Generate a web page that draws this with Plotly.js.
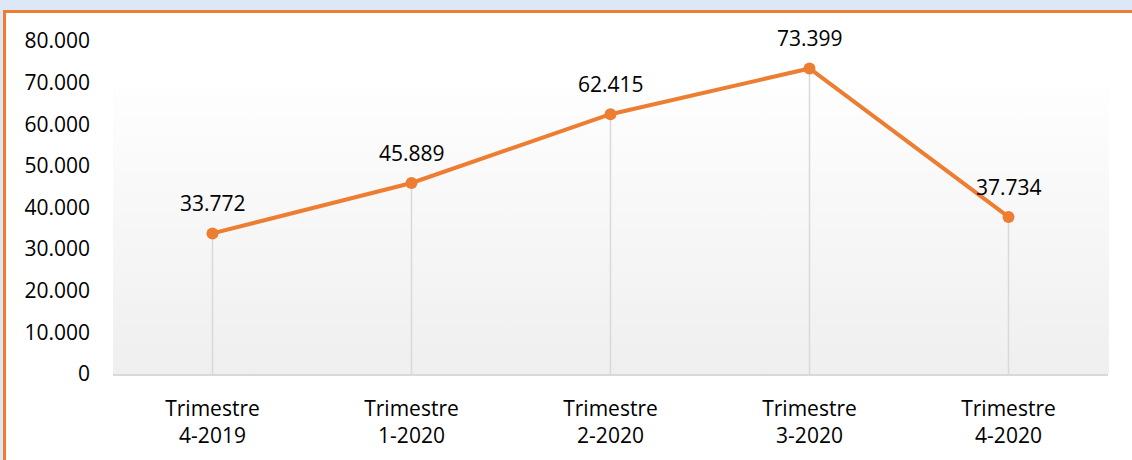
<!DOCTYPE html>
<html>
<head>
<meta charset="utf-8">
<script src="https://cdn.plot.ly/plotly-3.0.1.min.js"></script>
<style>
  html, body { margin: 0; padding: 0; width: 1132px; height: 460px; overflow: hidden; background: #dce7f7; }
  #frame { position: absolute; left: 3px; top: 10px; width: 1140px; height: 470px; background: #ffffff;
           border-top: 3px solid #ed7d31; border-left: 3px solid #ed7d31; box-sizing: border-box; }
  #grad { position: absolute; left: 113px; top: 85px; width: 996px; height: 289px;
          background: linear-gradient(to bottom, #fefefe 0%, #efefef 100%); }
  #chart { position: absolute; left: 0; top: 0; width: 1132px; height: 460px; }
</style>
</head>
<body>
<div id="frame"></div>
<div id="grad"></div>
<div id="chart"></div>
<script>
const categories = ["Trimestre<br>4-2019", "Trimestre<br>1-2020", "Trimestre<br>2-2020", "Trimestre<br>3-2020", "Trimestre<br>4-2020"];
const values = [33772, 45889, 62415, 73399, 37734];
const yTicks = [0, 10000, 20000, 30000, 40000, 50000, 60000, 70000, 80000];

const font = "'Open Sans', 'DejaVu Sans', sans-serif";
const orange = "#ed7d31";

function fmt(v) {
  return String(Math.round(v)).replace(/\B(?=(\d{3})+(?!\d))/g, ".");
}

const trace = {
  type: "scatter",
  mode: "lines+markers",
  x: categories,
  y: values,
  line: { color: orange, width: 4 },
  marker: { color: orange, size: 12 },
  error_y: {
    type: "data",
    symmetric: false,
    array: values.map(() => 0),
    arrayminus: values,
    color: "#d9d9d9",
    thickness: 1.5,
    width: 0
  },
  hoverinfo: "x+y",
  cliponaxis: false
};

const annotations = categories.map((c, i) => ({
  x: c,
  y: values[i],
  xref: "x",
  yref: "y",
  text: fmt(values[i]),
  showarrow: false,
  xanchor: "center",
  yanchor: "middle",
  yshift: 30,
  font: { family: font, size: 21, color: "#000000" }
}));

const layout = {
  width: 1132,
  height: 460,
  margin: { l: 113, r: 24, t: 41, b: 86 },
  paper_bgcolor: "rgba(0,0,0,0)",
  plot_bgcolor: "rgba(0,0,0,0)",
  separators: ",.",
  showlegend: false,
  font: { family: font, size: 21, color: "#000000" },
  annotations: annotations,
  xaxis: {
    type: "category",
    range: [-0.5, categories.length - 0.5],
    showgrid: false,
    zeroline: false,
    showline: true,
    linecolor: "#d9d9d9",
    linewidth: 1.5,
    ticks: "",
    ticklabelstandoff: 15,
    tickfont: { family: font, size: 21, color: "#000000" },
    fixedrange: true
  },
  yaxis: {
    range: [0, 80000],
    tickvals: yTicks,
    tickformat: ",.0f",
    showgrid: false,
    zeroline: false,
    showline: false,
    ticks: "",
    ticklabelstandoff: 22,
    tickfont: { family: font, size: 21, color: "#000000" },
    fixedrange: true
  }
};

Plotly.newPlot("chart", [trace], layout, { displayModeBar: false, staticPlot: true });
</script>
</body>
</html>
